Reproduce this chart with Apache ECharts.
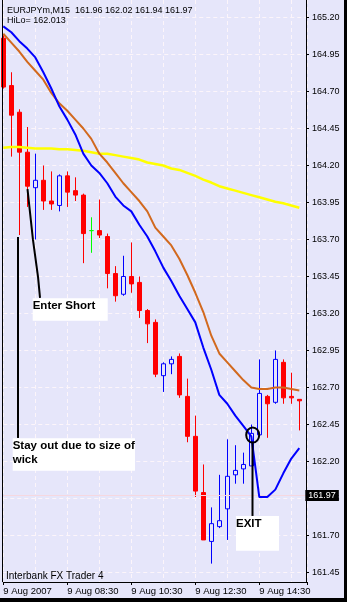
<!DOCTYPE html>
<html><head><meta charset="utf-8">
<script src="https://cdn.jsdelivr.net/npm/echarts@6/dist/echarts.min.js"></script>
<style>html,body{margin:0;padding:0;background:#E6E6FA;overflow:hidden}#c{width:347px;height:602px}</style>
</head><body><div id="c"></div>
<script>
// ---- data ----
const times = ['06:30','06:45','07:00','07:15','07:30','07:45','08:00','08:15','08:30','08:45',
  '09:00','09:15','09:30','09:45','10:00','10:15','10:30','10:45','11:00','11:15',
  '11:30','11:45','12:00','12:15','12:30','12:45','13:00','13:15','13:30','13:45',
  '14:00','14:15','14:30','14:45','15:00','15:15','15:30','15:45','16:00'];
const opens  = [165.06,164.74,164.56,164.29,164.05,164.10,163.96,163.93,164.13,164.03,
  164.00,163.76,163.76,163.72,163.47,163.33,163.45,163.41,163.22,163.14,
  162.78,162.86,162.91,162.64,162.37,161.99,161.66,161.76,161.88,162.11,
  162.15,162.17,162.38,162.64,162.60,162.87,162.64,162.62];
const closes = [164.73,164.54,164.29,164.06,164.10,163.96,163.94,164.13,164.02,164.00,
  163.74,163.76,163.73,163.47,163.32,163.45,163.40,163.22,163.13,162.79,
  162.86,162.89,162.65,162.37,162.00,161.67,161.78,161.80,162.10,162.14,
  162.18,162.39,162.66,162.59,162.89,162.63,162.63,162.61];
const lows   = [164.72,164.26,163.73,163.92,163.70,163.90,163.90,163.89,163.92,163.96,
  163.54,163.61,163.71,163.37,163.28,163.32,163.34,163.17,163.00,162.77,
  162.67,162.79,162.63,162.33,161.96,161.67,161.51,161.75,161.67,162.05,
  162.05,162.17,162.38,162.36,162.59,162.59,162.59,162.41];
const highs  = [165.08,164.83,164.58,164.46,164.28,164.20,164.16,164.14,164.16,164.12,
  164.01,163.85,163.97,163.74,163.52,163.59,163.68,163.45,163.23,163.16,
  162.87,162.91,162.93,162.76,162.51,162.18,161.89,162.11,162.35,162.31,
  162.26,162.45,162.89,162.65,162.95,162.89,162.80,162.62];
const hiloLine = [165.14,165.10,165.04,164.99,164.93,164.83,164.72,164.60,164.51,164.41,
  164.28,164.20,164.15,164.08,163.99,163.93,163.89,163.80,163.72,163.62,
  163.51,163.42,163.32,163.23,163.14,162.97,162.82,162.65,162.59,162.51,
  162.44,162.37,161.96,161.96,162.01,162.12,162.22,162.29];
const maMid = [165.09,165.03,164.97,164.90,164.84,164.78,164.69,164.62,164.57,164.51,
  164.45,164.38,164.28,164.22,164.15,164.08,164.02,163.96,163.89,163.78,
  163.72,163.66,163.57,163.46,163.34,163.21,163.05,162.93,162.87,162.81,
  162.75,162.70,162.69,162.69,162.70,162.70,162.69,162.68];
const maSlow = [164.32,164.325,164.325,164.32,164.315,164.315,164.315,164.31,164.31,164.305,
  164.30,164.29,164.28,164.28,164.27,164.26,164.25,164.24,164.22,164.21,
  164.20,164.18,164.17,164.15,164.13,164.105,164.085,164.06,164.045,164.03,
  164.015,164.00,163.985,163.97,163.955,163.945,163.93,163.915];
const yTicks = [161.45,161.70,161.95,162.20,162.45,162.70,162.95,163.20,163.45,163.70,163.95,164.20,164.45,164.70,164.95,165.20];
const xTickIdx = [0,8,16,24,32];
const xTickLabels = ['9 Aug 2007','9 Aug 08:30','9 Aug 10:30','9 Aug 12:30','9 Aug 14:30'];
const headerTitle = 'EURJPYm,M15';
const headerOHLC = [161.96,162.02,161.94,161.97];
const hiLoValue = 162.013;
const lastPrice = 161.97;
const footerText = 'Interbank FX Trader 4';
const yMin = 161.3858, yMax = 165.3182;
// annotations in data space: box [idx0, priceTop, idx1, priceBottom]
const annotations = [
  {lines:['Enter Short'], box:[3.675,163.303,13.05,163.151], path:[[3.025,164.041],[3.71,163.697],[4.34,163.447],[4.59,163.305]]},
  {lines:['Stay out due to size of','wick'], box:[1.175,162.357,16.46,162.138], path:[[1.84,163.717],[1.84,162.359]]},
  {lines:['EXIT'], box:[29.09,161.832,34.46,161.597], path:[[31.15,162.332],[31.15,161.832]]}
];
const circleAt = [31.175,162.379];

// ---- chart ----
const BG = '#E6E6FA';
const GRID = '#fcf5fa';
const chart = echarts.init(document.getElementById('c'), null, {renderer:'canvas'});
const candleData = opens.map((o,i)=>{
  const v=[o,closes[i],lows[i],highs[i]];
  if (o===closes[i]) return {value:v, itemStyle:{color:'#00ff00',color0:'#00ff00',borderColor:'#00ff00',borderColor0:'#00ff00'}};
  return v;
});
function xLabel(v,i){const j=xTickIdx.indexOf(i);return j>=0?xTickLabels[j]:'';}
const font = 'Liberation Sans';
chart.setOption({
  animation:false,
  backgroundColor:BG,
  textStyle:{fontFamily:font},
  grid:{left:3.3,right:39.7,top:0,bottom:20,containLabel:false,outerBoundsMode:'none'},
  xAxis:{type:'category',data:times,boundaryGap:false,
    axisLine:{show:true,onZero:false,lineStyle:{color:'#000',width:1}},
    axisTick:{show:true,interval:7,length:3,lineStyle:{color:'#000'}},
    axisLabel:{interval:7,align:'left',formatter:xLabel,fontSize:9.5,color:'#000',margin:4,showMaxLabel:true,showMinLabel:true,hideOverlap:false,fontFamily:font},
    splitLine:{show:true,interval:3,lineStyle:{color:GRID,type:[4,3],width:1}}
  },
  yAxis:{type:'value',position:'right',min:yMin,max:yMax,offset:-1.3,
    axisLine:{show:true,lineStyle:{color:'#000',width:1}},
    axisTick:{show:true,customValues:yTicks,length:3,lineStyle:{color:'#000'}},
    axisLabel:{customValues:yTicks,formatter:v=>v.toFixed(2),color:'#000',fontSize:9,margin:6,fontFamily:font},
    splitLine:{show:true,lineStyle:{color:GRID,type:[4,3],width:1}}
  },
  series:[
    {type:'candlestick',data:candleData,barWidth:4,z:2,
      itemStyle:{color:BG,color0:'#ff0000',borderColor:'#0000ff',borderColor0:'#ff0000',borderWidth:1},
      markLine:{silent:true,symbol:'none',animation:false,
        lineStyle:{color:'#f6d8e0',width:1,type:'solid'},
        label:{show:true,position:'end',distance:-2,formatter:()=>lastPrice.toFixed(2),backgroundColor:'#000',color:'#fff',fontSize:9,padding:[1,3,1,3],fontFamily:font},
        data:[{yAxis:lastPrice}]}
    },
    {type:'line',data:maSlow,symbol:'none',z:3,lineStyle:{color:'#ffff00',width:2.5}},
    {type:'line',data:maMid,symbol:'none',z:4,lineStyle:{color:'#D2691E',width:2}},
    {type:'line',data:hiloLine,symbol:'none',z:5,lineStyle:{color:'#0000ff',width:2}}
  ]
});

// ---- overlay (header, frame, annotations) ----
const x0 = chart.convertToPixel({xAxisIndex:0},0);
const x1 = chart.convertToPixel({xAxisIndex:0},1);
const step = x1-x0;
const px = i => x0 + i*step;
const py = p => chart.convertToPixel({yAxisIndex:0},p);
const axisBottom = py(yMin);
const g = [];
g.push({type:'text',left:7,top:6,style:{text:headerTitle+'  '+headerOHLC.map(v=>v.toFixed(2)).join(' '),fill:'#000',font:'9px "'+font+'"'},z:100});
g.push({type:'text',left:7,top:16,style:{text:'HiLo= '+hiLoValue.toFixed(3),fill:'#000',font:'9px "'+font+'"'},z:100});
g.push({type:'text',left:6,top:571,style:{text:footerText,fill:'#000',font:'10px "'+font+'"'},z:100});
g.push({type:'line',shape:{x1:2.5,y1:0,x2:2.5,y2:axisBottom},style:{stroke:'#000',lineWidth:1},z:100});
g.push({type:'rect',shape:{x:344,y:0,width:3,height:602},style:{fill:'#000'},z:100});
g.push({type:'rect',shape:{x:0,y:598,width:347,height:4},style:{fill:'#000'},z:100});
annotations.forEach(a=>{
  const bx=px(a.box[0]), by=py(a.box[1]), bx2=px(a.box[2]), by2=py(a.box[3]);
  g.push({type:'polyline',shape:{points:a.path.map(p=>[px(p[0]),py(p[1])])},style:{stroke:'#000',lineWidth:2,fill:null},z:101});
  g.push({type:'rect',shape:{x:bx,y:by,width:bx2-bx,height:by2-by},style:{fill:'#fff'},z:102});
  g.push({type:'text',x:bx,y:by+0.5,style:{text:a.lines.join('\n'),fill:'#000',font:'bold 11.5px "'+font+'"',lineHeight:14,textVerticalAlign:'top'},z:103});
});
g.push({type:'ellipse',shape:{cx:px(circleAt[0]),cy:py(circleAt[1]),rx:6.5,ry:7.5},style:{stroke:'#000',lineWidth:2,fill:null},z:101});
chart.setOption({graphic:g});
</script>
</body></html>
